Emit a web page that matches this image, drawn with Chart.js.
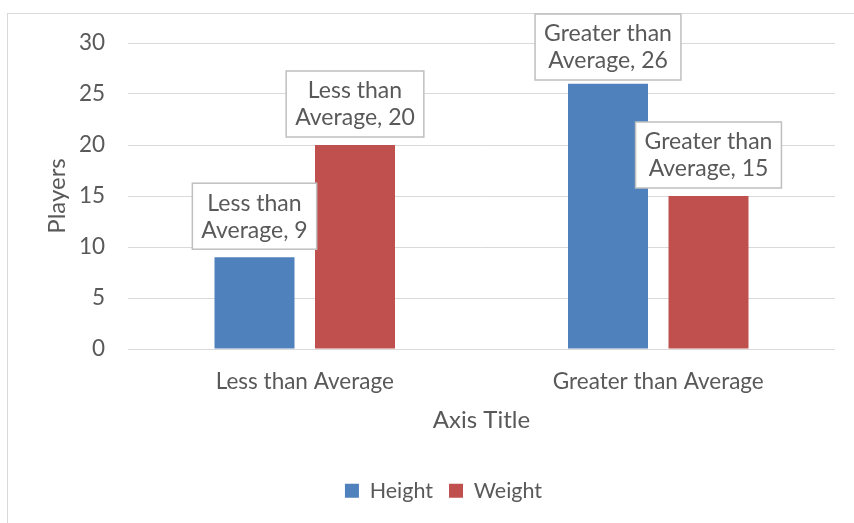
<!DOCTYPE html>
<html>
<head>
<meta charset="utf-8">
<script src="https://cdn.jsdelivr.net/npm/chart.js@4.4.0/dist/chart.umd.min.js"></script>
<style>
  html, body { margin: 0; padding: 0; width: 854px; height: 523px; overflow: hidden; background: #fff; }
  #frame { position: absolute; left: 7px; top: 13px; width: 1000px; height: 1000px; border: 1px solid #d9d9d9; box-sizing: border-box; }
  #wrap { position: absolute; left: 0; top: 0; width: 854px; height: 523px; }
</style>
</head>
<body>
<div id="frame"></div>
<div id="wrap"><canvas id="c" width="854" height="523"></canvas></div>
<script>
const categories = ["Less than Average", "Greater than Average"];
const heightValues = [9, 26];
const weightValues = [20, 15];
const yTicks = [0, 5, 10, 15, 20, 25, 30];
const seriesNames = ["Height", "Weight"];

const FONT = "Lato";
const TICK_FS = 22.5;
const TITLE_FS = 24;
const LABEL_FS = 23;
const LEGEND_FS = 21.5;
const TXT = "#595959";

const boxLabels = {
  id: 'boxLabels',
  afterDatasetsDraw(chart) {
    const ctx = chart.ctx;
    ctx.save();
    ctx.font = LABEL_FS + "px " + FONT;
    ctx.textAlign = "center";
    ctx.textBaseline = "middle";
    chart.data.datasets.forEach((ds, di) => {
      const meta = chart.getDatasetMeta(di);
      meta.data.forEach((bar, i) => {
        const words = chart.data.labels[i].split(" ");
        const last = words.pop();
        const lines = [words.join(" "), last + ", " + ds.data[i]];
        const tw = Math.max(...lines.map(l => ctx.measureText(l).width));
        const w = tw + 18, h = 66;
        const bottom = bar.y - 8;
        const top = Math.max(14, bottom - h);
        const left = bar.x - w / 2;
        ctx.fillStyle = "#fff";
        ctx.fillRect(left, top, w, h);
        ctx.strokeStyle = "#bfbfbf";
        ctx.lineWidth = 1.5;
        ctx.strokeRect(left, top, w, h);
        ctx.fillStyle = TXT;
        ctx.fillText(lines[0], bar.x, top + h / 2 - 13);
        ctx.fillText(lines[1], bar.x, top + h / 2 + 14);
      });
    });
    ctx.restore();
  }
};

const shiftLegend = {
  id: 'shiftLegend',
  afterLayout(chart) {
    if (chart.legend) {
      chart.legend.left += 26;
      chart.legend.right += 26;
    }
  }
};

new Chart(document.getElementById("c"), {
  type: "bar",
  data: {
    labels: categories,
    datasets: [
      { label: seriesNames[0], data: heightValues, backgroundColor: "#4f81bd" },
      { label: seriesNames[1], data: weightValues, backgroundColor: "#c0504d" }
    ]
  },
  options: {
    responsive: false,
    animation: false,
    devicePixelRatio: 1,
    categoryPercentage: 0.5686,
    barPercentage: 0.796,
    layout: { padding: { top: 43, right: 19, left: 0, bottom: 11.5 } },
    plugins: {
      tooltip: { enabled: false },
      legend: {
        position: "bottom",
        labels: {
          boxWidth: 14, boxHeight: 14, padding: 16,
          color: TXT,
          font: { family: FONT, size: LEGEND_FS, lineHeight: 1.2 }
        }
      }
    },
    scales: {
      x: {
        grid: { display: false, drawTicks: false },
        border: { display: false },
        ticks: { color: TXT, padding: 19, font: { family: FONT, size: TICK_FS, lineHeight: 1.2 } },
        title: { display: true, text: "Axis Title", color: TXT, font: { family: FONT, size: TITLE_FS, lineHeight: 1.2 }, padding: { top: 0, bottom: 29.6 } },
        afterFit(scale) { scale.height = 115; }
      },
      y: {
        min: 0, max: 30,
        afterBuildTicks(scale) { scale.ticks = yTicks.map(v => ({ value: v })); },
        grid: { color: "#d9d9d9", lineWidth: 1, drawTicks: false },
        border: { display: false },
        ticks: { color: TXT, padding: 23, font: { family: FONT, size: TICK_FS, lineHeight: 1.2 } },
        title: { display: true, text: "Players", color: TXT, font: { family: FONT, size: TITLE_FS, lineHeight: 1.2 }, padding: { top: 42.6, bottom: 0 } },
        afterFit(scale) { scale.width = 128; }
      }
    }
  },
  plugins: [boxLabels, shiftLegend]
});
</script>
</body>
</html>
